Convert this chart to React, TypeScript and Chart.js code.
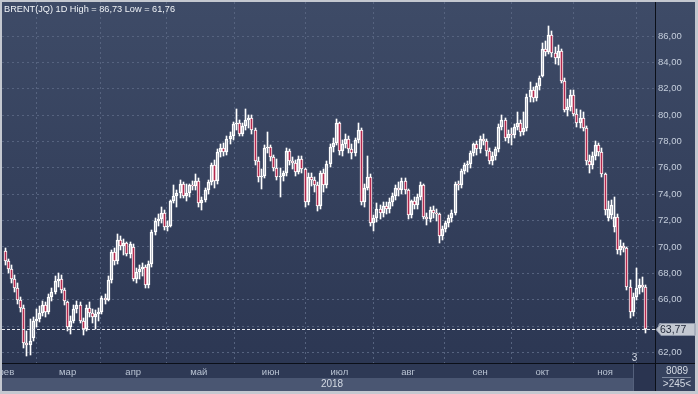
import React, { useEffect, useRef } from "react";
import { Chart, registerables } from "chart.js";

Chart.register(...registerables);

const monthNames = ["фев", "мар", "апр", "май", "июн", "июл", "авг", "сен", "окт", "ноя"];
const monthBarCounts = [20, 21, 21, 23, 22, 22, 23, 20, 20, 14];
const yTickValues = [62, 64, 66, 68, 70, 72, 74, 76, 78, 80, 82, 84, 86];

const titleText = "BRENT(JQ) 1D High = 86,73 Low = 61,76";
const yearLabel = "2018";
const lastPriceLabel = "63,77";
const panelTop = "8089";
const panelBottom = ">245<";
const markerLabel = "3";

const openP = [
  69.7, 68.9, 68.3, 67.6, 66.9, 66.0, 65.4, 62.7, 62.6, 63.1, 64.4, 64.5, 65.0, 65.6, 65.1, 66.2, 66.6, 67.4, 67.6, 66.7,
  65.8, 63.9, 64.4, 65.3, 65.6, 64.4, 63.8, 65.4, 65.0, 64.7, 64.9, 65.1, 66.1, 66.0, 67.5, 69.6, 68.9, 70.5, 70.1, 70.3, 69.5,
  70.0, 67.6, 68.1, 68.3, 68.5, 67.1, 68.7, 71.1, 72.0, 72.1, 72.6, 71.5, 71.6, 73.5, 73.9, 74.1, 74.8, 73.9, 74.1, 74.7, 74.6,
  75.0, 73.3, 73.6, 74.3, 74.9, 76.2, 75.0, 77.2, 77.5, 77.2, 78.2, 78.4, 79.3, 79.4, 78.6, 79.2, 79.6, 79.8, 78.9, 76.5, 75.3, 75.4, 77.5,
  77.6, 76.8, 76.0, 75.3, 75.4, 75.6, 77.3, 76.5, 76.4, 75.7, 76.7, 75.9, 73.4, 75.3, 75.1, 74.7, 73.1, 75.6, 74.7, 76.3, 77.6, 77.9,
  79.4, 77.3, 77.8, 78.2, 77.4, 77.1, 78.1, 78.9, 73.4, 74.5, 75.3, 71.8, 72.2, 72.9, 72.6, 73.1, 72.9, 73.4, 73.9, 74.5, 74.3, 75.0,
  74.3, 72.4, 73.5, 73.2, 73.8, 74.7, 72.3, 72.1, 72.8, 72.6, 72.5, 70.8, 71.4, 71.8, 72.2, 72.6, 74.8, 74.7, 75.8, 76.2, 76.3, 77.1, 77.8,
  77.4, 78.2, 78.0, 77.3, 76.5, 76.9, 77.4, 79.1, 79.6, 78.3, 78.6, 78.5, 79.1, 79.4, 78.7, 79.0, 81.4, 81.9, 81.3, 82.2,
  83.0, 85.0, 84.8, 86.1, 84.7, 84.3, 84.9, 82.6, 80.4, 80.6, 81.5, 80.1, 79.4, 79.8, 79.0, 76.5, 76.2, 76.9, 77.7, 77.2,
  75.5, 72.2, 72.4, 71.5, 72.3, 69.8, 70.1, 69.9, 67.0, 65.1, 66.2, 66.9, 67.1, 67.0,
];

const highP = [
  69.9, 69.1, 68.6, 67.9, 67.3, 66.2, 65.6, 63.6, 64.5, 64.7, 65.3, 65.5, 65.9, 65.8, 66.4, 66.9, 67.8, 68.0, 67.9, 66.9,
  65.9, 64.8, 65.6, 65.9, 65.8, 64.6, 65.6, 65.8, 65.3, 65.2, 65.4, 66.3, 66.4, 67.8, 69.8, 69.9, 71.0, 70.8, 70.6, 70.4, 70.4,
  70.2, 68.4, 68.6, 68.8, 68.6, 68.9, 71.3, 72.2, 72.5, 73.0, 72.8, 72.0, 73.6, 74.7, 74.3, 75.1, 74.9, 74.8, 74.8, 75.0, 75.5,
  75.2, 73.8, 74.5, 75.1, 76.4, 76.6, 77.4, 77.8, 77.9, 78.4, 78.7, 79.5, 80.5, 79.6, 79.4, 80.5, 80.0, 80.0, 79.0, 76.8, 75.9, 77.7, 78.7,
  77.7, 77.0, 76.7, 76.0, 75.8, 77.5, 77.4, 76.8, 76.6, 76.9, 76.9, 76.0, 75.6, 75.6, 75.3, 74.9, 75.8, 75.9, 76.5, 77.8, 78.3, 79.7,
  79.5, 78.1, 78.6, 78.4, 77.8, 78.3, 79.4, 79.0, 74.8, 76.9, 75.5, 72.4, 73.3, 73.2, 73.4, 73.4, 73.7, 74.1, 74.7, 74.9, 75.2, 75.2,
  74.4, 73.6, 73.8, 74.0, 74.9, 74.8, 72.6, 73.0, 73.1, 72.9, 72.6, 71.6, 72.0, 72.4, 72.8, 74.9, 75.0, 75.9, 76.4, 76.5, 77.3, 77.9, 78.0,
  78.4, 78.6, 78.2, 77.5, 77.2, 77.6, 79.3, 80.0, 79.8, 78.9, 79.0, 79.3, 80.2, 79.6, 80.2, 81.6, 82.5, 82.1, 82.4, 83.0,
  85.5, 85.6, 86.73, 86.4, 85.2, 85.3, 85.0, 82.8, 81.2, 81.9, 81.9, 80.5, 80.4, 80.2, 79.2, 77.0, 77.2, 78.0, 77.9, 77.5,
  75.6, 73.5, 73.6, 73.8, 72.5, 70.5, 70.3, 70.0, 67.5, 66.5, 68.4, 67.6, 67.7, 67.1,
];

const lowP = [
  68.6, 68.0, 67.3, 66.6, 65.7, 65.1, 62.3, 61.76, 61.8, 62.9, 63.9, 64.3, 64.8, 64.7, 64.9, 65.9, 66.4, 67.0, 66.5, 65.6,
  63.6, 63.4, 64.2, 65.0, 64.2, 63.3, 63.6, 64.7, 64.2, 63.8, 64.4, 64.9, 65.7, 65.9, 67.3, 68.6, 68.7, 69.8, 69.4, 69.3, 69.2,
  67.4, 67.3, 67.6, 67.8, 66.9, 66.9, 68.5, 70.9, 71.6, 71.8, 71.3, 71.2, 71.5, 73.3, 73.0, 73.7, 73.7, 73.5, 73.8, 74.3, 74.3,
  73.0, 72.8, 73.4, 74.0, 74.7, 74.5, 74.8, 76.8, 76.9, 77.0, 77.8, 78.1, 78.9, 78.4, 78.4, 78.9, 79.0, 78.6, 76.2, 74.9, 74.4, 75.2, 77.1,
  76.5, 75.8, 75.1, 73.8, 75.0, 75.4, 76.2, 75.9, 75.4, 75.5, 75.6, 73.0, 73.2, 74.6, 74.2, 72.7, 72.9, 74.2, 74.5, 76.1, 77.2, 77.7,
  77.0, 76.9, 77.5, 77.1, 76.7, 76.9, 77.9, 73.2, 73.0, 74.3, 71.6, 71.2, 71.9, 72.1, 72.3, 72.5, 72.6, 73.1, 73.6, 73.9, 74.0, 74.0,
  72.1, 72.2, 72.9, 72.9, 73.6, 72.1, 71.7, 71.9, 72.2, 72.0, 70.3, 70.5, 71.1, 71.5, 71.9, 72.4, 74.3, 74.5, 75.5, 75.7, 76.0, 76.9, 77.0,
  77.1, 77.7, 76.9, 76.3, 76.2, 76.6, 77.2, 78.9, 78.0, 77.9, 77.7, 78.3, 78.9, 78.4, 78.5, 78.8, 81.0, 81.0, 81.1, 81.9,
  82.9, 84.5, 84.6, 84.4, 83.9, 83.8, 82.4, 80.2, 79.9, 80.3, 79.9, 79.1, 79.0, 78.8, 76.2, 75.6, 75.9, 76.6, 76.9, 75.3,
  72.4, 72.0, 72.1, 71.1, 69.5, 69.4, 69.6, 66.7, 64.6, 64.8, 66.0, 66.4, 66.6, 63.5,
];

const closeP = [
  68.9, 68.3, 67.6, 66.9, 66.0, 65.4, 62.7, 62.6, 62.9, 64.4, 64.5, 65.0, 65.6, 65.1, 66.2, 66.6, 67.4, 67.6, 66.7, 65.9,
  63.9, 64.4, 65.3, 65.6, 64.4, 63.8, 65.4, 65.0, 64.7, 64.9, 65.1, 66.1, 66.0, 67.5, 69.6, 68.9, 70.5, 70.1, 70.3, 69.5, 70.2,
  67.6, 68.1, 68.3, 68.5, 67.1, 68.7, 71.1, 72.0, 72.1, 72.6, 71.5, 71.6, 73.5, 73.9, 74.1, 74.8, 73.9, 74.1, 74.7, 74.6, 75.0,
  73.3, 73.6, 74.3, 74.9, 76.2, 75.0, 77.2, 77.5, 77.2, 78.2, 78.4, 79.3, 79.4, 78.6, 79.2, 79.6, 79.8, 78.9, 76.5, 75.3, 75.4, 77.5, 77.6,
  76.8, 76.0, 75.3, 75.4, 75.6, 77.3, 76.5, 76.4, 75.7, 76.7, 75.9, 73.4, 75.3, 75.1, 74.7, 73.1, 75.6, 74.7, 76.3, 77.6, 77.9, 79.4,
  77.3, 77.8, 78.2, 77.4, 77.1, 78.1, 78.9, 73.4, 74.5, 75.3, 71.8, 72.2, 72.9, 72.6, 73.1, 72.9, 73.4, 73.9, 74.5, 74.3, 75.0, 74.3,
  72.4, 73.5, 73.2, 73.8, 74.7, 72.3, 72.1, 72.8, 72.6, 72.5, 70.8, 71.4, 71.8, 72.2, 72.6, 74.8, 74.7, 75.8, 76.2, 76.3, 77.1, 77.8, 77.4,
  78.2, 78.0, 77.3, 76.5, 76.9, 77.4, 79.1, 79.6, 78.3, 78.6, 78.5, 79.1, 79.4, 78.7, 79.0, 81.4, 81.9, 81.3, 82.2, 82.8,
  85.0, 84.8, 86.1, 84.7, 84.3, 84.9, 82.6, 80.4, 80.6, 81.5, 80.1, 79.4, 79.8, 79.0, 76.5, 76.2, 76.9, 77.7, 77.2, 75.5,
  72.8, 72.9, 73.2, 72.3, 69.8, 70.1, 69.9, 67.0, 65.1, 66.2, 66.9, 67.1, 67.0, 63.77,
];

const FONT = "'Liberation Sans', Arial, sans-serif";
const GRID = "#56637f";
const DOWN_FILL = "#b3294e";

export default function App() {
  const ref = useRef<HTMLCanvasElement | null>(null);

  useEffect(() => {
    document.body.style.margin = "0";
    document.body.style.overflow = "hidden";
    const canvas = ref.current;
    if (!canvas) return;

    const monthStarts: number[] = [];
    let acc = 0;
    for (const c of monthBarCounts) {
      monthStarts.push(acc);
      acc += c;
    }
    const idx = closeP.map((_, i) => i);
    const lastClose = closeP[closeP.length - 1];

    const decor = {
      id: "decor",
      beforeDraw(chart: any) {
        const ctx = chart.ctx;
        const W = chart.width;
        const H = chart.height;
        const ca = chart.chartArea;
        ctx.save();
        ctx.fillStyle = "#c4c8d0";
        ctx.fillRect(0, 0, W, H);
        const g = ctx.createLinearGradient(0, ca.top, 0, ca.bottom);
        g.addColorStop(0, "#3e4b67");
        g.addColorStop(1, "#2c3753");
        ctx.fillStyle = g;
        ctx.fillRect(ca.left, ca.top, W - 3 - ca.left, ca.bottom - ca.top);
        ctx.fillStyle = "#2e3955";
        ctx.fillRect(ca.left, ca.bottom, ca.right - ca.left, 15);
        ctx.fillStyle = "#4a5672";
        ctx.fillRect(ca.left, ca.bottom + 15, ca.right - ca.left, H - 3 - ca.bottom - 15);
        ctx.fillStyle = "#36425e";
        ctx.fillRect(ca.right, ca.bottom, W - 3 - ca.right, H - 3 - ca.bottom);
        ctx.fillStyle = "#2a3450";
        ctx.fillRect(633, ca.bottom, ca.right - 633, H - 3 - ca.bottom);
        ctx.fillStyle = "#55617c";
        ctx.fillRect(633, ca.bottom + 1, 1, H - 4 - ca.bottom);
        ctx.restore();
      },
      beforeDatasetsDraw(chart: any) {
        // snap candle elements to the pixel grid for crisp lines
        chart.data.datasets.forEach((_: any, di: number) => {
          const meta = chart.getDatasetMeta(di);
          meta.data.forEach((el: any) => {
            el.x = Math.floor(el.x) + 0.5;
            el.y = Math.round(el.y);
            el.base = Math.round(el.base);
          });
        });
      },
      afterDatasetsDraw(chart: any) {
        const ctx = chart.ctx;
        const ca = chart.chartArea;
        const y = Math.round(chart.scales.y.getPixelForValue(lastClose)) + 0.5;
        ctx.save();
        ctx.strokeStyle = "#e6e8ee";
        ctx.lineWidth = 1;
        ctx.setLineDash([3, 2]);
        ctx.beginPath();
        ctx.moveTo(ca.left, y);
        ctx.lineTo(ca.right, y);
        ctx.stroke();
        ctx.restore();
      },
      afterDraw(chart: any) {
        const ctx = chart.ctx;
        const W = chart.width;
        const H = chart.height;
        const ca = chart.chartArea;
        ctx.save();
        ctx.fillStyle = "#0b0f18";
        ctx.fillRect(Math.round(ca.right), ca.top, 1, H - 3 - ca.top);
        ctx.fillRect(ca.left, Math.round(ca.bottom), W - 3 - ca.left, 1);
        ctx.font = `9.2px ${FONT}`;
        ctx.fillStyle = "#f0f3f7";
        ctx.textBaseline = "middle";
        ctx.textAlign = "left";
        ctx.fillText(titleText, 4, 9);
        ctx.fillStyle = "#d3d9e3";
        ctx.textAlign = "center";
        ctx.font = `10px ${FONT}`;
        ctx.fillText(yearLabel, 332, 384.5);
        ctx.fillText(panelTop, 677, 371);
        ctx.fillText(panelBottom, 677, 384.5);
        ctx.fillStyle = "#7d889e";
        ctx.fillRect(662, 377, 29, 1);
        ctx.fillStyle = "#d3d9e3";
        ctx.fillText(markerLabel, 634.5, 358);
        const y = Math.round(chart.scales.y.getPixelForValue(lastClose)) + 0.5;
        ctx.beginPath();
        ctx.moveTo(ca.right + 1, y);
        ctx.lineTo(ca.right + 6, y - 6);
        ctx.lineTo(W - 3, y - 6);
        ctx.lineTo(W - 3, y + 6);
        ctx.lineTo(ca.right + 6, y + 6);
        ctx.closePath();
        ctx.fillStyle = "#c3c8d1";
        ctx.fill();
        ctx.strokeStyle = "#8d96a8";
        ctx.lineWidth = 1;
        ctx.stroke();
        ctx.fillStyle = "#1f2637";
        ctx.textAlign = "left";
        ctx.font = `10.5px ${FONT}`;
        ctx.fillText(lastPriceLabel, ca.right + 5, y + 0.5);
        ctx.restore();
      },
    };

    const chart = new Chart(canvas, {
      type: "bar",
      data: {
        datasets: [
          {
            label: "body",
            order: 0,
            grouped: false,
            barThickness: 3,
            borderWidth: 1,
            borderSkipped: false,
            borderColor: "#ffffff",
            backgroundColor: idx.map((i) => (closeP[i] < openP[i] ? DOWN_FILL : "rgba(0,0,0,0)")),
            data: idx.map((i) => ({ x: i, y: [openP[i], closeP[i]] })),
          } as any,
          {
            label: "upper",
            order: 1,
            grouped: false,
            barThickness: 1,
            borderWidth: 0,
            backgroundColor: "#ffffff",
            data: idx.map((i) => ({ x: i, y: [Math.max(openP[i], closeP[i]), highP[i]] })),
          } as any,
          {
            label: "lower",
            order: 1,
            grouped: false,
            barThickness: 1,
            borderWidth: 0,
            backgroundColor: "#ffffff",
            data: idx.map((i) => ({ x: i, y: [lowP[i], Math.min(openP[i], closeP[i])] })),
          } as any,
        ],
      },
      options: {
        animation: false,
        responsive: false,
        devicePixelRatio: 1,
        layout: { padding: { left: 2, top: 2, right: 3, bottom: 3 } },
        plugins: { legend: { display: false }, tooltip: { enabled: false }, title: { display: false } },
        events: [],
        scales: {
          x: {
            type: "linear",
            position: "bottom",
            min: -1,
            max: 208,
            offset: false,
            afterBuildTicks: (s: any) => {
              s.ticks = monthStarts.map((v) => ({ value: v }));
            },
            afterFit: (s: any) => {
              s.height = 28;
              s.paddingLeft = 0;
              s.paddingRight = 0;
            },
            ticks: {
              autoSkip: false,
              maxRotation: 0,
              minRotation: 0,
              padding: 4,
              color: "#b9c3d3",
              font: { family: FONT, size: 9.5 },
              callback: (v: any) => {
                const k = monthStarts.indexOf(Number(v));
                return k >= 0 ? monthNames[k] : "";
              },
            },
            grid: { color: GRID, drawTicks: false, lineWidth: 1 },
            border: { display: false, dash: [2, 3] },
          } as any,
          y: {
            position: "right",
            min: 61.2,
            max: 88.58,
            afterBuildTicks: (s: any) => {
              s.ticks = yTickValues.map((v) => ({ value: v }));
            },
            afterFit: (s: any) => {
              s.width = 40;
              s.paddingTop = 0;
              s.paddingBottom = 0;
            },
            ticks: {
              padding: 3,
              color: "#c5cedc",
              font: { family: FONT, size: 9.5 },
              callback: (v: any) => Number(v).toFixed(2).replace(".", ","),
            },
            grid: { color: GRID, drawTicks: false, lineWidth: 1 },
            border: { display: false, dash: [2, 3] },
          } as any,
        },
      },
      plugins: [decor],
    });

    return () => chart.destroy();
  }, []);

  return (
    <div style={{ width: 698, height: 394 }}>
      <canvas ref={ref} width={698} height={394} style={{ display: "block" }} />
    </div>
  );
}
